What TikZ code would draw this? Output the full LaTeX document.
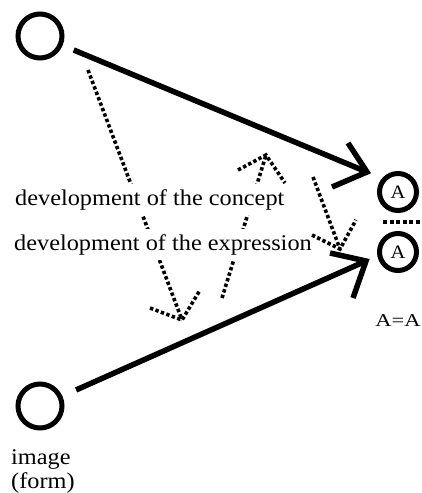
\documentclass[tikz,border=0pt]{standalone}
\usepackage{fontspec}
\setmainfont[FakeStretch=1.08]{Liberation Serif}
\newfontfamily\wideA[FakeStretch=1.25]{Liberation Serif}
\usetikzlibrary{calc}
\begin{document}
\begin{tikzpicture}[x=1pt,y=-1pt,
  ring/.style={draw,circle,line width=5pt,minimum size=44pt,inner sep=0pt},
  aring/.style={draw,circle,line width=5pt,minimum size=37pt,inner sep=0pt,font=\fontsize{19}{19}\selectfont},
  solidline/.style={line width=5.5pt,line join=miter,miter limit=10},
  dotline/.style={line width=3.6pt,dash pattern=on 3.4pt off 2.4pt},
  dashline/.style={line width=3.2pt,dash pattern=on 4pt off 2.5pt},
  lbl/.style={font=\fontsize{22.5}{24}\selectfont,inner xsep=0pt,inner ysep=5pt,fill=white,anchor=base west},
  sublbl/.style={font=\fontsize{22.5}{24}\selectfont,inner sep=0pt,align=left}]
\useasboundingbox (0,0) rectangle (421,493);
% circles
\node[ring] (top) at (40,36) {};
\node[ring] (bot) at (40,406) {};
\node[aring] (A1) at (398,192) {A};
\node[aring] (A2) at (398,252) {A};
% dotted arrows crossing the labels
\coordinate (d1s) at (88,70);
\coordinate (d1t) at (182,320);
\coordinate (d2s) at (222,298);
\coordinate (d2t) at (266,155);
\draw[dotline] (d1s) -- (d1t);
\draw[dotline] ($(d1t)+(-32,-12)$) -- (d1t) -- ($(d1t)+(18,-30)$);
\draw[dotline] (d2s) -- (d2t);
\draw[dotline] ($(d2t)+(-28,15)$) -- (d2t) -- ($(d2t)+(19,28)$);
% labels
\node[lbl] (concept) at (15,205) {development of the concept};
\node[lbl] (expr) at (14,250) {development of the expression};
% third dotted arrow
\coordinate (d3s) at (313,177);
\coordinate (d3t) at (340,249);
\draw[dotline] (d3s) -- (d3t);
\draw[dotline] ($(d3t)+(-28,-14)$) -- (d3t) -- ($(d3t)+(16,-29)$);
% solid arrows
\coordinate (t1) at (367,172);
\coordinate (t2) at (366,261);
\draw[solidline,shorten <=12pt] (top) -- (t1);
\draw[solidline] ($(t1)+(-19,-29)$) -- (t1) -- ($(t1)+(-35,15)$);
\draw[solidline,shorten <=15pt] (bot) -- (t2);
\draw[solidline] ($(t2)+(-36,-8)$) -- (t2) -- ($(t2)+(-13,37)$);
% dashed separator
\draw[dashline] (A1.south west |- 0,222) -- (421,222);
% texts
\node[font=\wideA\fontsize{18}{18}\selectfont,anchor=base] (eq) at (398,326) {A=A};
\node[sublbl,anchor=north west] (img) at (11,449) {image\\(form)};
\end{tikzpicture}
\end{document}
